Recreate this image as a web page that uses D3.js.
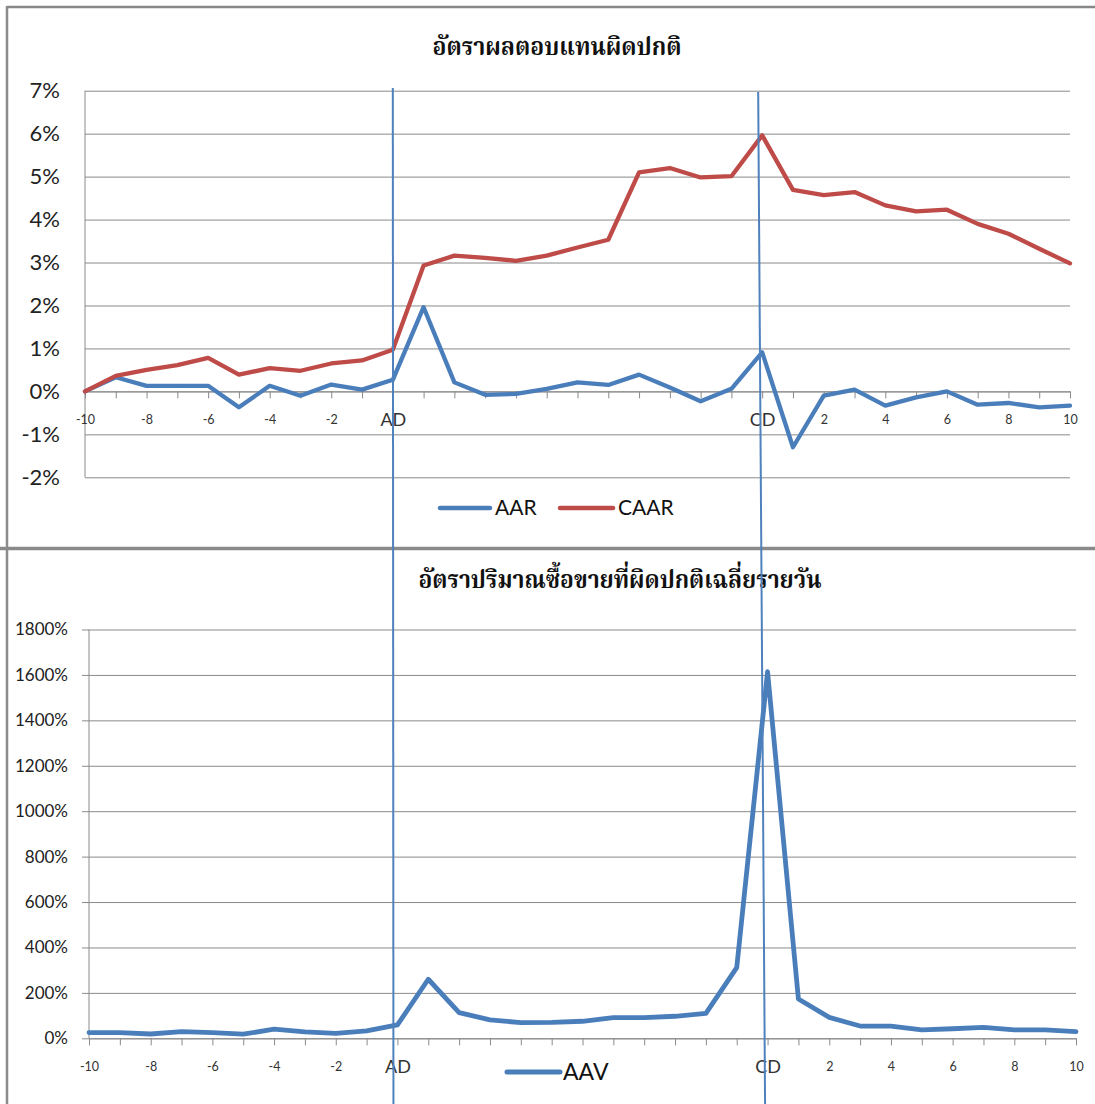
<!DOCTYPE html>
<html><head><meta charset="utf-8">
<script src="https://cdn.jsdelivr.net/npm/d3@7"></script>
<style>body{margin:0;background:#fff;overflow:hidden}</style>
</head><body>
<svg id="c" width="1095" height="1104"></svg>
<script>
// ---------- data ----------
const dayLabels = ["-10","-9","-8","-7","-6","-5","-4","-3","-2","-1","AD","","","","","","","","","","","","CD","1","2","3","4","5","6","7","8","9","10"];
const aar  = [0.00,0.33,0.13,0.13,0.13,-0.37,0.13,-0.10,0.16,0.04,0.27,1.96,0.21,-0.08,-0.06,0.06,0.21,0.15,0.39,0.09,-0.23,0.06,0.91,-1.30,-0.10,0.04,-0.33,-0.14,0.00,-0.31,-0.27,-0.37,-0.33];
const caar = [0.00,0.36,0.50,0.61,0.78,0.39,0.54,0.48,0.65,0.72,0.97,2.93,3.16,3.11,3.04,3.16,3.35,3.53,5.10,5.20,4.98,5.01,5.96,4.69,4.57,4.64,4.33,4.19,4.23,3.90,3.67,3.32,2.98];
const aav  = [25,25,19,29,25,18,40,28,22,33,59,260,113,81,69,70,75,91,91,97,110,311,1614,173,92,54,54,37,42,48,37,37,29];
const returnTicks = [-2,-1,0,1,2,3,4,5,6,7];
const volumeTicks = [0,200,400,600,800,1000,1200,1400,1600,1800];
const eventDays = ["AD","CD"];
const titleTop = "อัตราผลตอบแทนผิดปกติ";
const titleBottom = "อัตราปริมาณซื้อขายที่ผิดปกติเฉลี่ยรายวัน";
const seriesTop = [{name:"AAR", values:aar, color:"#4A7EBB"},{name:"CAAR", values:caar, color:"#BE4B48"}];
const seriesBottom = [{name:"AAV", values:aav, color:"#4A7EBB"}];

// ---------- setup ----------
const svg = d3.select("#c");
const idx = d3.range(dayLabels.length);
const numFont = "Lato, 'Open Sans', sans-serif";
const thaiFont = "'Noto Serif Thai','Noto Sans Thai','TH Sarabun New','Tlwg Typo','Loma',serif";
const gridColor = "#8a8a8a";

svg.append("rect").attr("width",1095).attr("height",1104).attr("fill","#fff");

// frames
svg.append("line").attr("x1",7).attr("x2",1095).attr("y1",7).attr("y2",7).attr("stroke","#888").attr("stroke-width",2.5);
svg.append("line").attr("x1",7).attr("x2",7).attr("y1",6).attr("y2",1104).attr("stroke","#8c8c8c").attr("stroke-width",2.5);
svg.append("line").attr("x1",0).attr("x2",1095).attr("y1",548.5).attr("y2",548.5).attr("stroke","#8a8a8a").attr("stroke-width",3.5);

// ---------- top chart ----------
const xT = d3.scalePoint().domain(idx).range([85,1070]);
const yT = d3.scaleLinear().domain([-2,7]).range([477.3,90.7]);
const gT = svg.append("g");

const yAxT = gT.append("g").attr("transform","translate(85,0)")
  .call(d3.axisLeft(yT).tickValues(returnTicks).tickSize(-(1070-85)).tickPadding(25).tickFormat(d=>d+"%"));
yAxT.select(".domain").remove();
yAxT.selectAll("line").attr("stroke",gridColor);
yAxT.selectAll("text").attr("font-family",numFont).attr("font-size",22).attr("fill","#222");
gT.append("line").attr("x1",85).attr("x2",85).attr("y1",yT(7)).attr("y2",yT(-2)).attr("stroke",gridColor);

function xAxis(g, x, y0){
  const ax = g.append("g").attr("transform",`translate(0,${y0})`)
    .call(d3.axisBottom(x).tickValues(idx).tickSize(7).tickSizeOuter(0)
      .tickFormat(i => i%2===0 ? dayLabels[i] : ""));
  ax.select(".domain").attr("stroke",gridColor);
  ax.selectAll("line").attr("stroke",gridColor);
  ax.selectAll("text").attr("y",28).attr("dy","0.35em")
    .attr("font-family",numFont).attr("fill","#333")
    .attr("font-size", d => (dayLabels[d]==="AD"||dayLabels[d]==="CD") ? 18 : 12.5);
  return ax;
}
xAxis(gT, xT, yT(0));

const line = (x,y) => d3.line().x((d,i)=>x(i)).y(d=>y(d));
seriesTop.forEach(s=>{
  gT.append("path").datum(s.values).attr("d",line(xT,yT)).attr("fill","none")
    .attr("stroke",s.color).attr("stroke-width",4.3).attr("stroke-linejoin","round").attr("stroke-linecap","round");
});

gT.append("text").attr("x",557).attr("y",46).attr("dy","0.35em").attr("text-anchor","middle")
  .attr("font-family",thaiFont).attr("font-weight","bold").attr("font-size",25).attr("fill","#111")
  .attr("textLength",249).attr("lengthAdjust","spacingAndGlyphs").text(titleTop);

// legend top
const legT = [{x1:440,x2:490,tx:495},{x1:560,x2:613,tx:618}];
seriesTop.forEach((s,k)=>{
  const p = legT[k];
  gT.append("line").attr("x1",p.x1).attr("x2",p.x2).attr("y1",508).attr("y2",508)
    .attr("stroke",s.color).attr("stroke-width",4.5).attr("stroke-linecap","round");
  gT.append("text").attr("x",p.tx).attr("y",508).attr("dy","0.35em").attr("font-family",numFont)
    .attr("font-size",21).attr("fill","#111").text(s.name);
});

// ---------- bottom chart ----------
const xB = d3.scalePoint().domain(idx).range([89,1076]);
const yB = d3.scaleLinear().domain([0,1800]).range([1038.3,629.5]);
const gB = svg.append("g");

const yAxB = gB.append("g").attr("transform","translate(82,0)")
  .call(d3.axisLeft(yB).tickValues(volumeTicks).tickSize(-(1076-82)).tickPadding(14).tickFormat(d=>d+"%"));
yAxB.select(".domain").remove();
yAxB.selectAll("line").attr("stroke",gridColor);
yAxB.selectAll("text").attr("font-family",numFont).attr("font-size",17).attr("fill","#222");
gB.append("line").attr("x1",89).attr("x2",89).attr("y1",yB(1800)).attr("y2",yB(0)).attr("stroke",gridColor);
xAxis(gB, xB, yB(0));

seriesBottom.forEach(s=>{
  gB.append("path").datum(s.values).attr("d",line(xB,yB)).attr("fill","none")
    .attr("stroke",s.color).attr("stroke-width",4.8).attr("stroke-linejoin","round").attr("stroke-linecap","round");
});

gB.append("text").attr("x",620).attr("y",579).attr("dy","0.35em").attr("text-anchor","middle")
  .attr("font-family",thaiFont).attr("font-weight","bold").attr("font-size",25).attr("fill","#111")
  .attr("textLength",403).attr("lengthAdjust","spacingAndGlyphs").text(titleBottom);

seriesBottom.forEach(s=>{
  gB.append("line").attr("x1",507).attr("x2",560).attr("y1",1072).attr("y2",1072)
    .attr("stroke",s.color).attr("stroke-width",5).attr("stroke-linecap","round");
  gB.append("text").attr("x",563).attr("y",1072).attr("dy","0.35em").attr("font-family",numFont)
    .attr("font-size",23).attr("fill","#111").text(s.name);
});

// ---------- event marker lines (AD / CD) spanning both charts ----------
const evOffsets = {AD:{top:0,bot:-4, y1:88}, CD:{top:-4,bot:-2.5, y1:92}};
eventDays.forEach(e=>{
  const i = dayLabels.indexOf(e);
  const o = evOffsets[e];
  svg.append("line").attr("x1",xT(i)+o.top).attr("y1",o.y1)
    .attr("x2",xB(i)+o.bot).attr("y2",1104)
    .attr("stroke","#4F81BD").attr("stroke-width",2);
});
</script>
</body></html>
